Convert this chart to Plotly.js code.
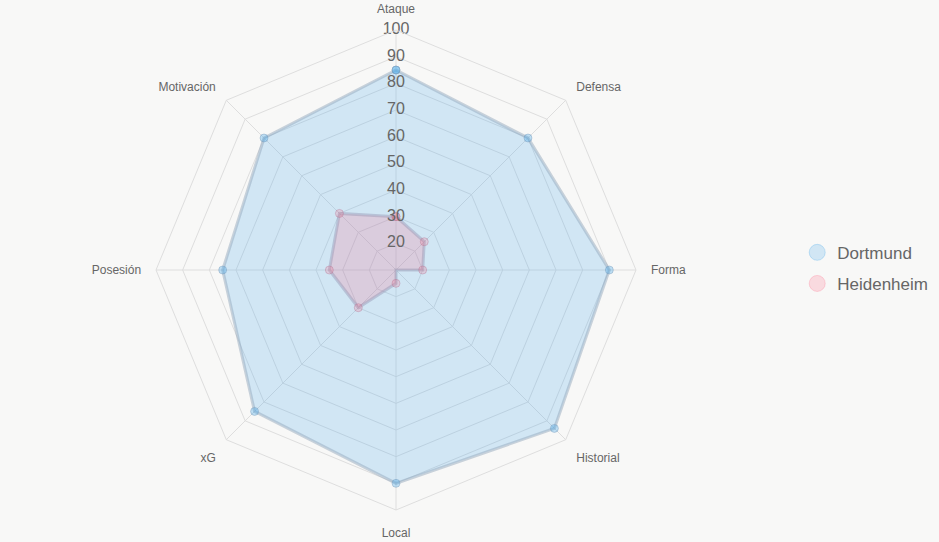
<!DOCTYPE html>
<html><head><meta charset="utf-8">
<script src="https://cdn.plot.ly/plotly-3.0.1.min.js"></script>
<style>html,body{margin:0;padding:0;background:#f8f8f7;}#chart{width:939px;height:542px;}</style>
</head><body><div id="chart"></div>
<script>
const categories = ["Ataque","Defensa","Forma","Historial","Local","xG","Posesión","Motivación"];
const dortmund = [85, 80, 90, 94, 90, 85, 75, 80];
const heidenheim = [30, 25, 20, 10, 15, 30, 35, 40];
const seriesNames = ["Dortmund","Heidenheim"];
const radialTicks = [20,30,40,50,60,70,80,90,100];
const radialTickLabels = ["20","30","40","50","60","70","80","90","100"];

function closed(a){ return a.concat([a[0]]); }

const traces = [
  {type:'scatterpolar', r: closed(dortmund), theta: closed(categories), name: seriesNames[0],
   fill:'toself', fillcolor:'rgba(54,162,235,0.2)', mode:'lines+markers',
   line:{color:'rgba(150,170,190,0.5)', width:3},
   marker:{size:8, color:'rgba(54,162,235,0.3)', line:{color:'rgba(120,150,180,0.4)', width:1}},
   showlegend:false, hoverinfo:'skip'},
  {type:'scatterpolar', r: closed(heidenheim), theta: closed(categories), name: seriesNames[1],
   fill:'toself', fillcolor:'rgba(255,99,132,0.2)', mode:'lines+markers',
   line:{color:'rgba(150,150,180,0.45)', width:3},
   marker:{size:8, color:'rgba(255,99,132,0.2)', line:{color:'rgba(180,120,150,0.4)', width:1}},
   showlegend:false, hoverinfo:'skip'},
  {type:'scatterpolar', r: radialTicks, theta: radialTicks.map(() => categories[0]),
   mode:'text', text: radialTickLabels, textposition:'middle center',
   textfont:{size:16, color:'#666', family:'"Liberation Sans", Arial, sans-serif'},
   showlegend:false, hoverinfo:'skip'},
  {type:'scatterpolar', r:[null], theta:[null], name: seriesNames[0], mode:'markers', legendgroup:'a',
   marker:{size:16, color:'rgba(54,162,235,0.2)', line:{color:'rgba(54,162,235,0.25)', width:1}}},
  {type:'scatterpolar', r:[null], theta:[null], name: seriesNames[1], mode:'markers', legendgroup:'b',
   marker:{size:16, color:'rgba(255,99,132,0.2)', line:{color:'rgba(255,99,132,0.25)', width:1}}}
];

const layout = {
  width:939, height:542,
  paper_bgcolor:'#f8f8f7', plot_bgcolor:'#f8f8f7',
  margin:{l:0,r:0,t:0,b:0},
  font:{family:'"Liberation Sans", Arial, sans-serif', color:'#666'},
  showlegend:true,
  legend:{x:0.849, y:0.505, xanchor:'left', yanchor:'middle', font:{size:17, color:'#666'},
          bgcolor:'rgba(0,0,0,0)', tracegroupgap:6, itemwidth:30},
  polar:{
    domain:{x:[156/939, 636/939], y:[1-510/542, 1-30/542]},
    bgcolor:'rgba(0,0,0,0)',
    gridshape:'linear',
    radialaxis:{range:[10,100], tickvals:radialTicks, angle:90, showticklabels:false,
      showline:false, gridcolor:'#dedede', gridwidth:1, ticks:''},
    angularaxis:{direction:'clockwise', rotation:90, gridcolor:'#dedede', linecolor:'#dedede',
      linewidth:1, ticks:'outside', ticklen:12, tickcolor:'rgba(0,0,0,0)',
      tickfont:{size:12, color:'#666'}}
  }
};
Plotly.newPlot('chart', traces, layout, {displayModeBar:false, staticPlot:true});
</script></body></html>
